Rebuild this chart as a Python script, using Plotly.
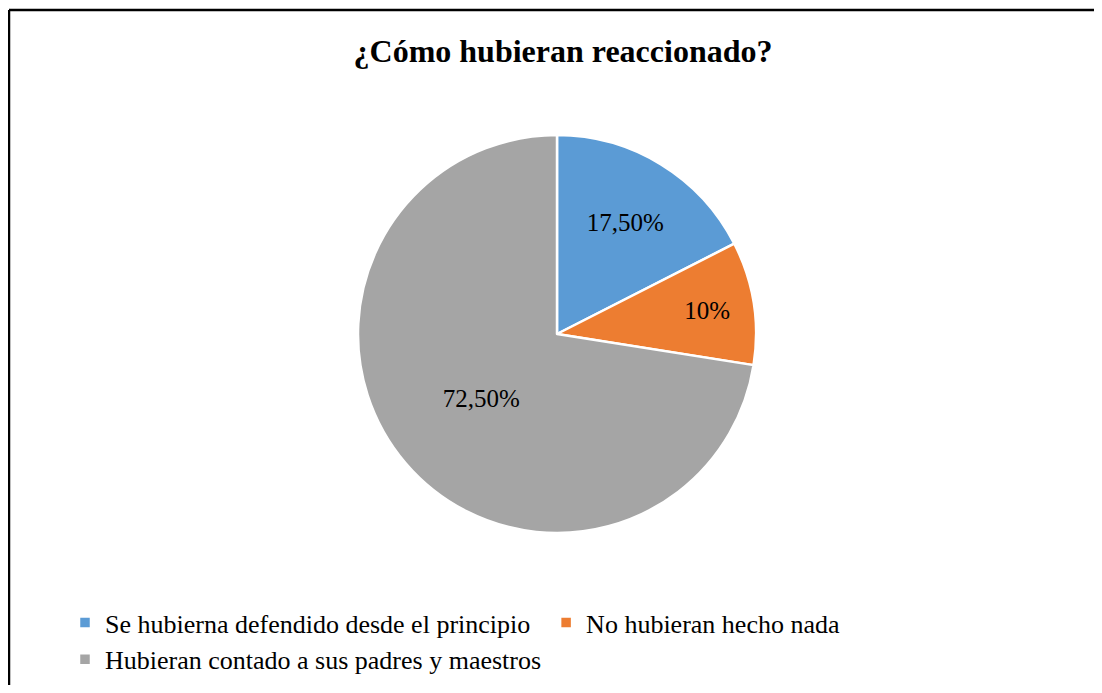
import plotly.graph_objects as go

# data
labels = ["Se hubierna defendido desde el principio", "No hubieran hecho nada",
          "Hubieran contado a sus padres y maestros"]
values = [17.5, 10, 72.5]
text_labels = ["17,50%", "10%", "72,50%"]
colors = ["#5B9BD5", "#ED7D31", "#A5A5A5"]

off = 8  # page body margin
W, H = 1102 - off, 693 - 2 * off
cx, cy, r = 557 - off, 334 - off, 199

pie = go.Pie(
    labels=labels, values=values, text=text_labels,
    textinfo="text", textposition="inside", insidetextorientation="horizontal",
    sort=False, direction="clockwise", rotation=0,
    marker=dict(colors=colors, line=dict(color="white", width=2.5)),
    textfont=dict(family="Liberation Serif", size=25, color="black"),
    domain=dict(x=[(cx - r) / W, (cx + r) / W], y=[1 - (cy + r) / H, 1 - (cy - r) / H]),
    hoverinfo="label+percent",
)

# chart frame: only top and left edges are visible in the original crop
fx, fy = (9 - off) / W, 1 - (10 - off) / H
frame = [
    dict(type="line", xref="paper", yref="paper", x0=fx, x1=1, y0=fy, y1=fy,
         line=dict(color="black", width=2.5)),
    dict(type="line", xref="paper", yref="paper", x0=fx, x1=fx, y0=0, y1=fy,
         line=dict(color="black", width=2.5)),
]

fig = go.Figure(pie)
fig.update_layout(
    width=W, height=H,
    margin=dict(l=0, r=0, t=0, b=0, autoexpand=False),
    paper_bgcolor="white",
    font=dict(family="Liberation Serif", color="black"),
    title=dict(text="<b>¿Cómo hubieran reaccionado?</b>", x=(563 - off) / W, xanchor="center",
               y=1 - (51 - off) / H, yanchor="middle", font=dict(size=32, color="black")),
    legend=dict(orientation="h", x=(65 - off) / W, xanchor="left", y=1 - (599 - off) / H,
                yanchor="top", font=dict(size=26), traceorder="normal"),
    shapes=frame,
)

fig.write_html("out.html")
